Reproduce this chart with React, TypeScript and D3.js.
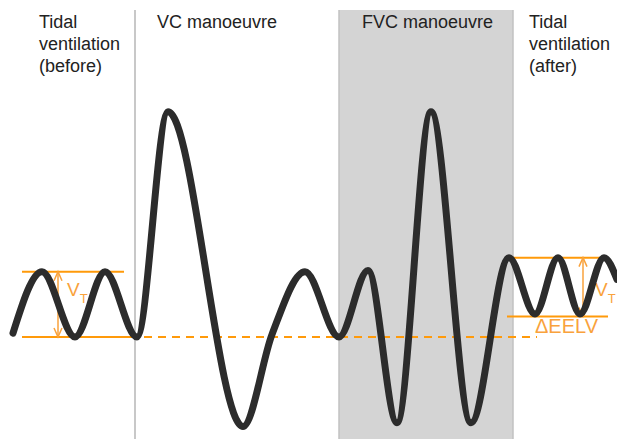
import * as d3 from "d3"
import React, { useRef, useEffect } from "react"

// trace turning points: time (s) and volume (L, relative to starting EELV)
const time = [0, 2.9, 6.2, 9.2, 12.4, 15.5, 23.0, 25.9, 29.2, 32.6, 35.5, 38.4, 41.8, 45.8, 49.6, 52.2, 54.5, 56.7, 59.1, 60.4]
const volume = [0.03, 0.51, 0, 0.51, 0, 1.76, -0.7, 0.02, 0.51, 0, 0.52, -0.67, 1.76, -0.67, 0.62, 0.18, 0.62, 0.18, 0.62, 0.45]

// phase boundaries (s)
const vcStart = 12.2
const fvcStart = 32.6
const fvcEnd = 50.0

// reference levels (L)
const beforeTop = 0.51
const beforeEELV = 0
const afterTop = 0.62
const afterEELV = 0.16

const phaseLabels = [
    { lines: ["Tidal", "ventilation", "(before)"], t: 2.6 },
    { lines: ["VC manoeuvre"], t: 14.4 },
    { lines: ["FVC manoeuvre"], t: 34.9 },
    { lines: ["Tidal", "ventilation", "(after)"], t: 51.6 },
]

const orange = "#ff9a0a"
const labelOrange = "#f9a23c"

function App() {
    const ref = useRef<SVGSVGElement>(null)
    const width = 617
    const height = 439

    useEffect(() => {
        const svg = d3.select(ref.current)
        svg.selectAll("*").remove()

        const x = d3.scaleLinear().domain([0, 60.4]).range([13, 617])
        const y = d3.scaleLinear().domain([0, 1]).range([337, 209])

        // FVC shaded phase
        svg.append("rect")
            .attr("x", x(fvcStart))
            .attr("y", 10)
            .attr("width", x(fvcEnd) - x(fvcStart))
            .attr("height", height - 10)
            .attr("fill", "#d4d4d4")
        svg.selectAll("line.edge")
            .data([fvcStart, fvcEnd])
            .enter()
            .append("line")
            .attr("x1", d => x(d)).attr("x2", d => x(d))
            .attr("y1", 10).attr("y2", height)
            .attr("stroke", "#c2c2c2")
            .attr("stroke-width", 1.5)

        // VC start line
        svg.append("line")
            .attr("x1", x(vcStart)).attr("x2", x(vcStart))
            .attr("y1", 10).attr("y2", height)
            .attr("stroke", "#c8c8c8")
            .attr("stroke-width", 2)

        // phase titles
        phaseLabels.forEach(p => {
            const t = svg.append("text")
                .attr("x", x(p.t))
                .attr("y", 28)
                .attr("font-family", "Liberation Sans, Arial, sans-serif")
                .attr("font-size", "18px")
                .attr("fill", "#222")
            p.lines.forEach((l, i) => {
                t.append("tspan").attr("x", x(p.t)).attr("y", 28 + i * 22).text(l)
            })
        })

        // reference lines
        const hline = (t0, t1, v) => svg.append("line")
            .attr("x1", x(t0)).attr("x2", x(t1))
            .attr("y1", y(v)).attr("y2", y(v))
            .attr("stroke", orange)
            .attr("stroke-width", 2)
        hline(0.9, 11.1, beforeTop)
        hline(0.9, 11.7, beforeEELV)
        hline(49.2, 59.5, afterTop)
        hline(49.4, 59.5, afterEELV)
        hline(11.7, 52.4, beforeEELV).attr("stroke-dasharray", "8,6")

        // double headed arrows
        const arrow = (t, v0, v1) => {
            const ax = x(t), a = y(v0), b = y(v1)
            svg.append("line")
                .attr("x1", ax).attr("x2", ax).attr("y1", a).attr("y2", b)
                .attr("stroke", labelOrange).attr("stroke-width", 1.5)
            svg.append("path")
                .attr("d", `M${ax - 4},${a + 9}L${ax},${a}L${ax + 4},${a + 9}M${ax - 4},${b - 9}L${ax},${b}L${ax + 4},${b - 9}`)
                .attr("fill", "none")
                .attr("stroke", labelOrange).attr("stroke-width", 1.5)
        }
        arrow(4.5, beforeTop, beforeEELV)
        arrow(57.0, afterTop, afterEELV)

        // V_T labels
        const vt = (t, yy) => {
            const tx = svg.append("text")
                .attr("x", x(t)).attr("y", yy)
                .attr("font-family", "Liberation Sans, Arial, sans-serif")
                .attr("font-size", "19px")
                .attr("fill", labelOrange)
            tx.append("tspan").text("V")
            tx.append("tspan").attr("font-size", "13px").attr("dy", 7).text("T")
        }
        vt(5.4, 296)
        vt(58.2, 296)

        svg.append("text")
            .attr("x", x(52.2)).attr("y", 333)
            .attr("font-family", "Liberation Sans, Arial, sans-serif")
            .attr("font-size", "20px")
            .attr("fill", labelOrange)
            .text("ΔEELV")

        // volume trace
        const pts = time.map((t, i) => [t, volume[i]])
        const line = d3.line()
            .x(d => x(d[0]))
            .y(d => y(d[1]))
            .curve(d3.curveMonotoneX)
        svg.append("path")
            .attr("d", line(pts))
            .attr("fill", "none")
            .attr("stroke", "#2c2c2c")
            .attr("stroke-width", 7)
            .attr("stroke-linecap", "round")
            .attr("stroke-linejoin", "round")
    }, [])

    return (
        <div style={{ position: "absolute", top: 0, left: 0 }}>
            <svg ref={ref} width={width} height={height} style={{ display: "block", background: "#fff" }}></svg>
        </div>
    )
}

export default App
